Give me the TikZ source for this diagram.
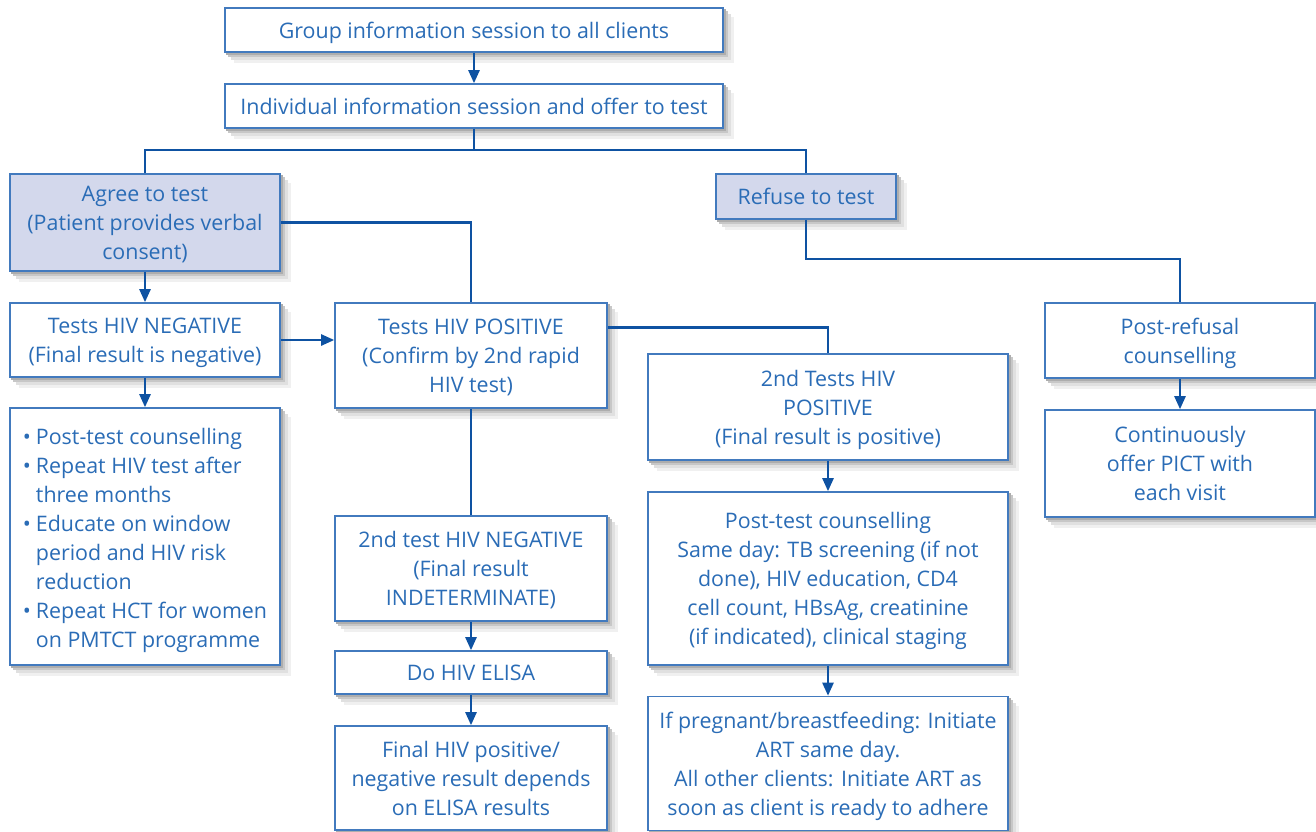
\documentclass[tikz,border=0pt]{standalone}
\usepackage{fontspec}
\setmainfont{Open Sans}
\usepackage{tikz}
\usetikzlibrary{arrows.meta}
\definecolor{flowblue}{RGB}{14,82,162}
\definecolor{edgeblue}{RGB}{66,122,190}
\definecolor{textblue}{RGB}{42,108,182}
\definecolor{agreefill}{RGB}{211,216,236}

\begin{document}
\begin{tikzpicture}[x=1pt, y=-1pt, >={Triangle[width=11pt, length=13pt]},
  box/.style={draw=edgeblue, line width=1.6pt, fill=white, text=textblue,
    align=center, inner sep=0pt, font=\fontsize{21.4}{29}\selectfont,
    text depth=-6pt},
  choice/.style={box, fill=agreefill},
  link/.style={draw=flowblue, line width=2.4pt},
  arr/.style={link, ->}]
  \useasboundingbox (0,0) rectangle (1316,831);

  % top of the chart
  \node[box, minimum width=498pt, minimum height=44pt] (group) at (474,30)
    {Group information session to all clients};
  \node[box, minimum width=498pt, minimum height=44pt] (indiv) at (474,106)
    {Individual information session and offer to test};

  % the two choices
  \node[choice, minimum width=270pt, minimum height=97pt] (agree) at (145,222.5)
    {Agree to test\\(Patient provides verbal\\consent)};
  \node[choice, minimum width=180pt, minimum height=45pt] (refuse) at (806,196.5)
    {Refuse to test};

  % agree branch
  \node[box, minimum width=270pt, minimum height=74pt] (neg) at (145,340)
    {Tests HIV NEGATIVE\\(Final result is negative)};
  \node[box, minimum width=272pt, minimum height=105pt] (pos) at (471,355.5)
    {Tests HIV POSITIVE\\(Confirm by 2nd rapid\\HIV test)};
  \node[box, text depth=, minimum width=270pt, minimum height=257pt] (advice) at (145,536.5)
    {\raisebox{0pt}[\dimexpr\height+8pt\relax]{\begin{tabular}{@{}l@{\hspace{5pt}}l@{}}
      \textbullet & Post-test counselling\\
      \textbullet & Repeat HIV test after\\
       & three months\\
      \textbullet & Educate on window\\
       & period and HIV risk\\
       & reduction\\
      \textbullet & Repeat HCT for women\\
       & on PMTCT programme
    \end{tabular}}};
  \node[box, minimum width=360pt, minimum height=106pt] (pos2) at (828,407)
    {2nd Tests HIV\\POSITIVE\\(Final result is positive)};
  \node[box, minimum width=272pt, minimum height=105pt] (neg2) at (471,568.5)
    {2nd test HIV NEGATIVE\\(Final result\\INDETERMINATE)};
  \node[box, minimum width=272pt, minimum height=43pt] (elisa) at (471,672.5)
    {Do HIV ELISA};
  \node[box, minimum width=272pt, minimum height=104pt] (final) at (471,778)
    {Final HIV positive/\\negative result depends\\on ELISA results};
  \node[box, minimum width=360pt, minimum height=173pt] (counsel) at (828,578.5)
    {Post-test counselling\\Same day: TB screening (if not\\done), HIV education, CD4\\cell count, HBsAg, creatinine\\(if indicated), clinical staging};
  \node[box, minimum width=360pt, minimum height=134pt] (art) at (828,763.5)
    {If pregnant/breastfeeding: Initiate\\ART same day.\\All other clients: Initiate ART as\\soon as client is ready to adhere};

  % refuse branch
  \node[box, minimum width=270pt, minimum height=75pt] (refcoun) at (1180,340.5)
    {Post-refusal\\counselling};
  \node[box, minimum width=270pt, minimum height=107pt] (pict) at (1180,463.5)
    {Continuously\\offer PICT with\\each visit};

  % soft shadows on the right and lower sides
  \foreach \n in {group, indiv, agree, refuse, neg, pos, advice, pos2, neg2,
                  elisa, final, counsel, art, refcoun, pict} {
    \foreach \d/\g in {10/6, 7/12, 4/22, 2/32} {
      \fill[black!\g] ([shift={(0pt,-\d pt)}]\n.north east) rectangle ([shift={(\d pt,-\d pt)}]\n.south east);
      \fill[black!\g] ([shift={(\d pt,0pt)}]\n.south west) rectangle ([shift={(\d pt,-\d pt)}]\n.south east);
    }
  }

  % connectors
  \coordinate (split) at (474,150);
  \draw[arr] (group) -- (indiv);
  \draw[link] (indiv) -- (split);
  \draw[link] (agree.north) |- (split) -| (refuse.north);
  \draw[link] (agree.east) -| (pos.north);
  \draw[arr] (agree) -- (neg);
  \draw[arr] (neg.east) -- (neg.east -| pos.west);
  \draw[arr] (neg) -- (advice);
  \draw[link] ([yshift=28pt]pos.east) -| (pos2.north);
  \draw[link] (pos) -- (neg2);
  \draw[arr] (neg2) -- (elisa);
  \draw[arr] (elisa) -- (final);
  \draw[arr] (pos2) -- (counsel);
  \draw[arr] (counsel) -- (art);
  \draw[link] (refuse.south) -- ++(0,39) -| (refcoun.north);
  \draw[arr] (refcoun) -- (pict);
\end{tikzpicture}
\end{document}
